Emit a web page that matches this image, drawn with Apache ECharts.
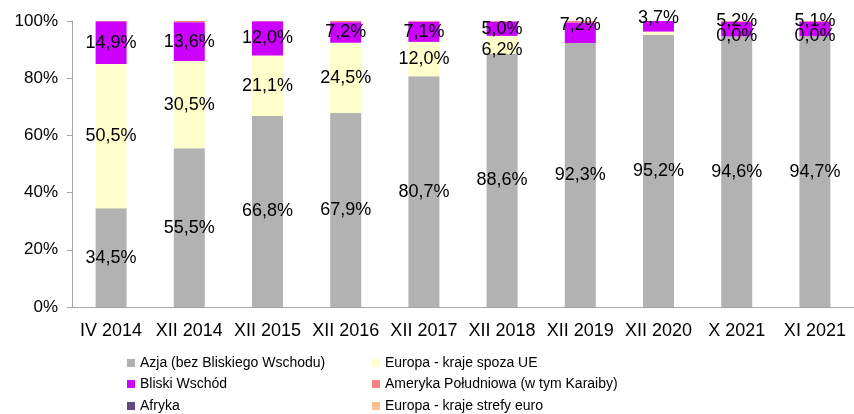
<!DOCTYPE html>
<html lang="pl">
<head>
    <meta charset="UTF-8">
    <title>Struktura</title>
    <script src="https://cdn.jsdelivr.net/npm/echarts@6/dist/echarts.min.js"></script>
    <style>
        html, body { margin: 0; padding: 0; background: #fff; }
    </style>
</head>
<body>
    <div id="chart" style="width: 854px;height:414px;"></div>
</body>
</html>
<script type="text/javascript">
    // dane
    var categories = ['IV 2014', 'XII 2014', 'XII 2015', 'XII 2016', 'XII 2017', 'XII 2018', 'XII 2019', 'XII 2020', 'X 2021', 'XI 2021'];
    var azja = [34.5, 55.5, 66.8, 67.9, 80.7, 88.6, 92.3, 95.2, 94.6, 94.7];
    var europaSpozaUE = [50.5, 30.5, 21.1, 24.5, 12.0, 6.2, 0.0, 1.1, 0.0, 0.0];
    var bliskiWschod = [14.9, 13.6, 12.0, 7.2, 7.1, 5.0, 7.2, 3.7, 5.2, 5.1];
    var amerykaPld = [0.1, 0.4, 0.1, 0.4, 0.2, 0.2, 0.5, 0.0, 0.2, 0.2];
    var afryka = [0, 0, 0, 0, 0, 0, 0, 0, 0, 0];
    var europaEuro = [0, 0, 0, 0, 0, 0, 0, 0, 0, 0];

    var names = ['Azja (bez Bliskiego Wschodu)', 'Europa - kraje spoza UE', 'Bliski Wschód',
        'Ameryka Południowa (w tym Karaiby)', 'Afryka', 'Europa - kraje strefy euro'];
    var colors = ['#b2b2b2', '#ffffcc', '#cc00ff', '#ff8080', '#604a7b', '#fac090'];

    var font = "Arial, 'Liberation Sans', sans-serif";

    function fmt(p) {
        return p.value.toFixed(1).replace('.', ',') + '%';
    }

    // etykiety przesunięte / ukryte jak na oryginale
    var hidden = { 1: [6, 7] };
    var shifted = { 1: { 5: [0, 5] }, 2: { 6: [0, -8], 7: [0, -8], 8: [0, -8], 9: [0, -8] } };

    function build(values, s) {
        return values.map(function (v, i) {
            var item = { value: v };
            if (hidden[s] && hidden[s].indexOf(i) >= 0) item.label = { show: false };
            if (shifted[s] && shifted[s][i]) item.label = { offset: shifted[s][i] };
            return item;
        });
    }

    var allData = [azja, europaSpozaUE, bliskiWschod, amerykaPld, afryka, europaEuro];
    var series = allData.map(function (vals, s) {
        return {
            name: names[s],
            type: 'bar',
            stack: 'razem',
            barWidth: 31,
            itemStyle: { color: colors[s] },
            label: {
                show: s < 3,
                position: 'inside',
                color: '#000',
                fontFamily: font,
                fontSize: 18,
                formatter: fmt
            },
            data: build(vals, s)
        };
    });

    // legenda: dwie kolumny, trzy wiersze
    var legendLeft = [127, 372];
    var legendTop = [356, 377, 399];
    var legends = names.map(function (n, k) {
        return {
            left: legendLeft[k % 2],
            top: legendTop[Math.floor(k / 2)],
            padding: 0,
            itemWidth: 8, itemHeight: 8,
            icon: 'rect',
            textStyle: { fontFamily: font, fontSize: 14, color: '#000' },
            data: [n]
        };
    });

    var chart = echarts.init(document.getElementById('chart'));
    var option = {
        animation: false,
        color: colors,
        grid: { left: 72, top: 21, width: 789, bottom: 107 },
        legend: legends,
        xAxis: {
            type: 'category',
            data: categories,
            axisLine: { lineStyle: { color: '#a6a6a6' } },
            axisTick: { length: 6, lineStyle: { color: '#a6a6a6' } },
            axisLabel: { interval: 0, color: '#000', fontFamily: font, fontSize: 18, margin: 15 }
        },
        yAxis: {
            type: 'value',
            min: 0, max: 100, interval: 20,
            axisLine: { show: true, lineStyle: { color: '#a6a6a6' } },
            axisTick: { show: true, length: 5, lineStyle: { color: '#a6a6a6' } },
            splitLine: { show: false },
            axisLabel: { color: '#000', fontFamily: font, fontSize: 17, margin: 14, formatter: '{value}%' }
        },
        series: series
    };
    chart.setOption(option);
</script>
